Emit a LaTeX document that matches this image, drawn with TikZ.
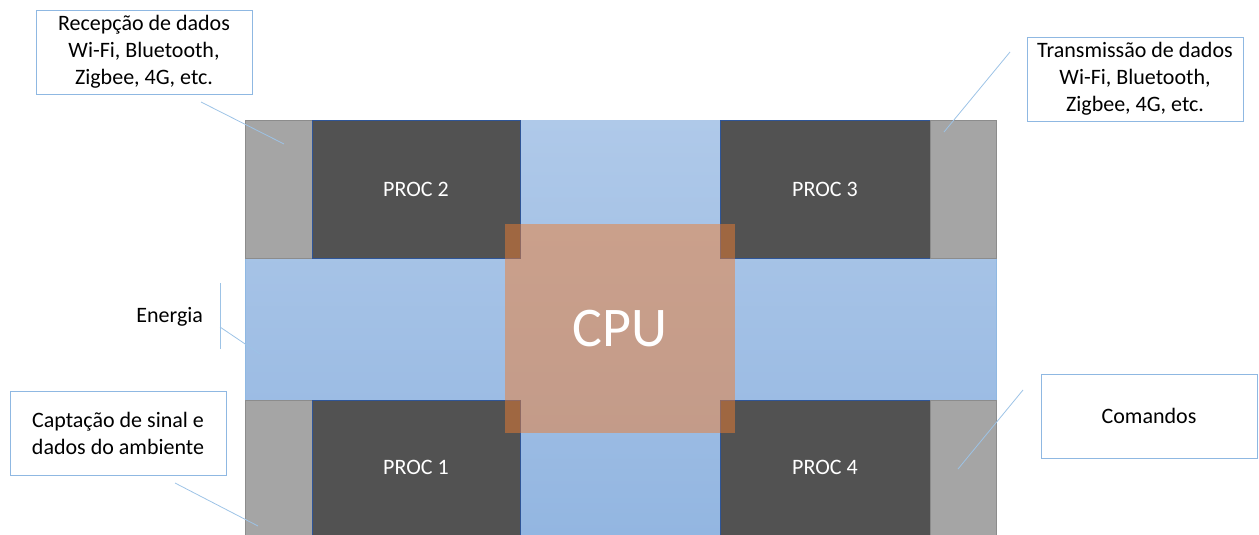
\documentclass[tikz,border=0pt]{standalone}
\usepackage{fontspec}
\setmainfont{Carlito}
\usetikzlibrary{positioning}

\definecolor{procgray}{HTML}{525252}
\definecolor{portgray}{HTML}{A5A5A5}
\definecolor{portline}{HTML}{8C8C8C}
\definecolor{procline}{HTML}{2F5597}
\definecolor{bluetop}{HTML}{AFC9E9}
\definecolor{bluebot}{HTML}{93B6E1}
\definecolor{cpuorange}{HTML}{ED7D31}
\definecolor{calloutblue}{HTML}{8FB8E2}
\definecolor{leaderblue}{HTML}{9DC3E6}

\begin{document}
\begin{tikzpicture}[x=1pt, y=-1pt, node distance=0pt, inner sep=0pt, outer sep=0pt,
        txt/.style={font=\fontsize{22}{27}\selectfont},
        port/.style={fill=portgray, draw=portline, line width=0.8pt, minimum width=67},
        proc/.style={txt, fill=procgray, draw=procline, line width=0.8pt, text=white, minimum width=208},
        cpubox/.style={fill=cpuorange, fill opacity=0.5, text opacity=1, text=white,
            font=\fontsize{56}{60}\selectfont, minimum width=230, minimum height=209},
        callout/.style={txt, draw=calloutblue, line width=0.8pt, fill=white, align=center,
            minimum width=216, minimum height=84},
        leader/.style={leaderblue, line width=0.8pt}]
        \useasboundingbox (0,0) rectangle (1259,535);

        % energy cross
        \shade[top color=bluetop, bottom color=bluebot]
            (520,120) rectangle (720,535) (245,258) rectangle (996,400);
        \draw[calloutblue, line width=0.8pt] (245,258) -- (245,400) (996,258) -- (996,400);

        % top row
        \node[port, minimum height=138, anchor=north west] (g2) at (245,120) {};
        \node[proc, minimum height=138, right=of g2] (p2) {PROC 2};
        \node[proc, minimum height=138, right=200pt of p2, minimum width=210] (p3) {PROC 3};
        \node[port, minimum height=138, right=of p3, minimum width=66] (g3) {};

        % bottom row
        \node[port, minimum height=135, below=142pt of g2] (g1) {};
        \node[proc, minimum height=135, right=of g1] (p1) {PROC 1};
        \node[proc, minimum height=135, right=200pt of p1, minimum width=210] (p4) {PROC 4};
        \node[port, minimum height=135, right=of p4, minimum width=66] (g4) {};

        \node[cpubox] (cpu) at (620,328.5) {CPU};

        % callouts
        \node[callout] (rx) at (144,52) {Recepção de dados\\Wi-Fi, Bluetooth,\\Zigbee, 4G, etc.};
        \node[callout] (tx) at (1135,79) {Transmissão de dados\\Wi-Fi, Bluetooth,\\Zigbee, 4G, etc.};
        \node[callout] (sens) at (118,433) {Captação de sinal e\\dados do ambiente};
        \node[callout] (cmd) at (1149,416) {Comandos};
        \node[txt, anchor=east] (energia) at (203,317) {Energia};

        \coordinate (rxa) at (201,102);   \coordinate (rxb) at (284,144);
        \coordinate (txa) at (1010,52);   \coordinate (txb) at (944,132);
        \coordinate (sensa) at (175,483); \coordinate (sensb) at (258,526);
        \coordinate (cmda) at (1023,390); \coordinate (cmdb) at (958,469);
        \coordinate (ena) at (220,283);   \coordinate (enb) at (220,349);
        \coordinate (enc) at (220,327);   \coordinate (end) at (260,354);

        \draw[leader] (rxa) -- (rxb);
        \draw[leader] (txa) -- (txb);
        \draw[leader] (sensa) -- (sensb);
        \draw[leader] (cmda) -- (cmdb);
        \draw[leader] (ena) -- (enb);
        \draw[leader] (enc) -- (end);
\end{tikzpicture}
\end{document}
